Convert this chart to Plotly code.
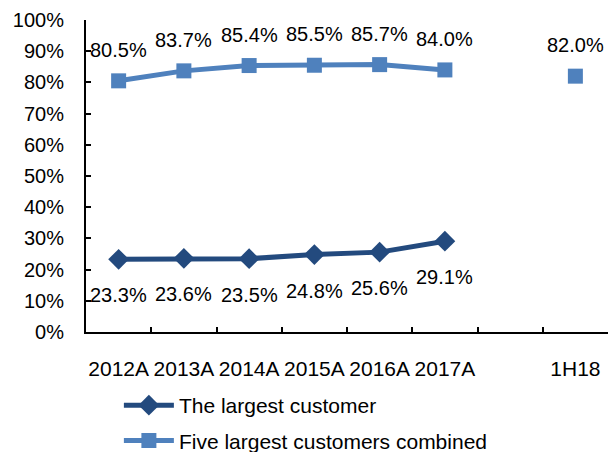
import plotly.graph_objects as go

categories = ["2012A", "2013A", "2014A", "2015A", "2016A", "2017A", " ", "1H18"]
largest = [23.3, 23.6, 23.5, 24.8, 25.6, 29.1, None, None]
five_largest = [80.5, 83.7, 85.4, 85.5, 85.7, 84.0, None, 82.0]
y_ticks = list(range(0, 101, 10))

dark = "#234A7E"
light = "#4F81BD"
font = "Liberation Sans, Arial, sans-serif"

fig = go.Figure()
fig.add_trace(go.Scatter(
    x=categories, y=largest, mode="lines+markers", name="The largest customer",
    line=dict(color=dark, width=5), connectgaps=False,
    marker=dict(symbol="diamond", size=16, color=dark), legendgroup="a"))
fig.add_trace(go.Scatter(
    x=categories, y=five_largest, mode="lines+markers", name="Five largest customers combined",
    line=dict(color=light, width=5), connectgaps=False,
    marker=dict(symbol="square", size=15, color=light), legendgroup="b"))

for c, v in zip(categories, largest):
    if v is not None:
        fig.add_annotation(x=c, y=v, text=f"{v:.1f}%", showarrow=False, yshift=-36,
                           font=dict(size=20, color="black", family=font))
for c, v in zip(categories, five_largest):
    if v is not None:
        fig.add_annotation(x=c, y=v, text=f"{v:.1f}%", showarrow=False, yshift=31,
                           font=dict(size=20, color="black", family=font))

fig.update_layout(
    width=609, height=452,
    margin=dict(l=86, r=1, t=20, b=120, autoexpand=False),
    paper_bgcolor="white", plot_bgcolor="white",
    font=dict(family=font, size=20, color="black"),
    showlegend=True,
    legend=dict(x=0.063, y=-0.17, xanchor="left", yanchor="top", xref="paper", yref="paper",
                orientation="v", tracegroupgap=5, font=dict(size=21), itemwidth=50,
                bgcolor="rgba(0,0,0,0)"),
    xaxis=dict(type="category", categoryorder="array", categoryarray=categories,
               range=[-0.5, len(categories) - 0.5], tickson="boundaries",
               ticks="inside", ticklen=5, tickwidth=1.5, tickcolor="black",
               showline=True, linecolor="black", linewidth=2, showgrid=False,
               tickangle=0, automargin=False,
               ticklabelstandoff=17, tickfont=dict(size=21)),
    yaxis=dict(range=[0, 100], tickvals=y_ticks, ticktext=[f"{t}%" for t in y_ticks],
               ticks="inside", ticklen=5, tickwidth=1.5, tickcolor="black",
               showline=True, linecolor="black", linewidth=2, showgrid=False,
               automargin=False,
               zeroline=False, ticklabelstandoff=16, tickfont=dict(size=20)),
)

fig.write_html("out.html")
